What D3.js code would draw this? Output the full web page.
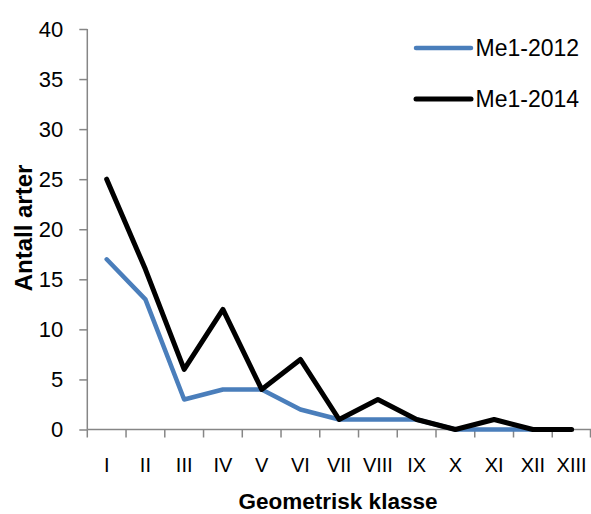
<!DOCTYPE html>
<html><head><meta charset="utf-8">
<script src="https://cdn.jsdelivr.net/npm/d3@7"></script>
<style>body{margin:0;background:#fff}svg{display:block}</style>
</head><body>
<svg id="c" width="591" height="514"></svg>
<script>
const categories = ["I","II","III","IV","V","VI","VII","VIII","IX","X","XI","XII","XIII"];
const me2012 = [17,13,3,4,4,2,1,1,1,0,0,0,null];
const me2014 = [25,16,6,12,4,7,1,3,1,0,1,0,0];
const seriesNames = ["Me1-2012","Me1-2014"];
const seriesColors = ["#4a7ebb","#000000"];
const yTicks = [0,5,10,15,20,25,30,35,40];

const svg = d3.select("#c");
const font = "'Liberation Sans', Arial, sans-serif";
const x0 = 87.3, x1 = 591, yTop = 29, yBot = 429.5;
const xb = d3.scaleBand().domain(categories).range([x0, x1]).padding(0);
const y = d3.scaleLinear().domain([0,40]).range([yBot, yTop]);

// y axis
const ya = svg.append("g").attr("transform", `translate(${x0},0)`)
  .call(d3.axisLeft(y).tickValues(yTicks).tickSize(8).tickPadding(10));
ya.select(".domain").attr("stroke","#868686").attr("stroke-width",1.5).attr("d",`M0,${yTop}V${yBot}`);
ya.selectAll(".tick line").attr("stroke","#868686").attr("stroke-width",1.5);
ya.selectAll("text").attr("font-family",font).attr("font-size",22).attr("fill","#000").attr("dx", -6);

// x axis
const xa = svg.append("g").attr("transform", `translate(0,${yBot})`);
xa.append("line").attr("x1",x0).attr("x2",x1).attr("stroke","#868686").attr("stroke-width",1.5);
const edges = categories.map(c => xb(c)).concat([x1-0.5]);
xa.selectAll("line.t").data(edges).enter().append("line").attr("class","t")
  .attr("x1",d=>d).attr("x2",d=>d).attr("y1",0).attr("y2",8)
  .attr("stroke","#868686").attr("stroke-width",1.5);
xa.selectAll("text").data(categories).enter().append("text")
  .attr("x",d=>xb(d)+xb.bandwidth()/2).attr("y",42)
  .attr("text-anchor","middle").attr("font-family",font).attr("font-size",20).attr("fill","#000")
  .text(d=>d);

// lines
const line = d3.line().defined(d=>d.v!=null)
  .x(d=>xb(d.c)+xb.bandwidth()/2).y(d=>y(d.v));
[me2012, me2014].forEach((s,i)=>{
  svg.append("path").datum(categories.map((c,j)=>({c, v:s[j]})))
    .attr("d", line).attr("fill","none").attr("stroke",seriesColors[i])
    .attr("stroke-width", i===0?4.5:5).attr("stroke-linejoin","round").attr("stroke-linecap","round");
});

// legend
const legY = [48, 99];
seriesNames.forEach((n,i)=>{
  svg.append("line").attr("x1",416).attr("x2",471).attr("y1",legY[i]).attr("y2",legY[i])
    .attr("stroke",seriesColors[i]).attr("stroke-width",i===0?4.5:5).attr("stroke-linecap","round");
  svg.append("text").attr("x",475.5).attr("y",legY[i]+7.5).attr("font-family",font).attr("font-size",23)
    .attr("fill","#000").text(n);
});

// axis titles
svg.append("text").attr("transform","translate(32,228) rotate(-90)").attr("text-anchor","middle")
  .attr("font-family",font).attr("font-size",24).attr("font-weight","bold").text("Antall arter");
svg.append("text").attr("x",338).attr("y",509).attr("text-anchor","middle")
  .attr("font-family",font).attr("font-size",22.5).attr("font-weight","bold").text("Geometrisk klasse");
</script>
</body></html>
